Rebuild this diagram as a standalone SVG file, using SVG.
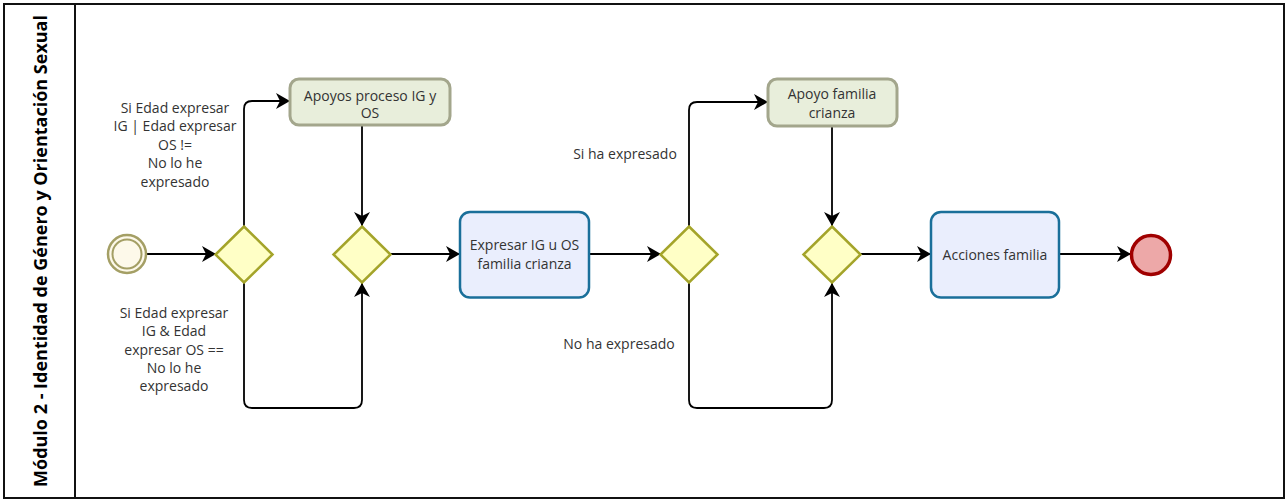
<svg xmlns="http://www.w3.org/2000/svg" width="1287" height="501" viewBox="0 0 1287 501">
<style>
.t{font-family:"Open Sans","Noto Sans","Liberation Sans",sans-serif;font-size:14px;fill:#333;text-anchor:middle;dominant-baseline:central}
.lane{font-family:"Open Sans","Noto Sans","Liberation Sans",sans-serif;font-size:18px;font-weight:bold;fill:#000;text-anchor:middle;dominant-baseline:central}
.gw{fill:#ffffc6;stroke:#a4a42a;stroke-width:2.5}
.sub{fill:#e8eedb;stroke:#a3a68c;stroke-width:3}
.task{fill:#eaeefd;stroke:#1a6f9a;stroke-width:2.5}
.c{fill:none;stroke:#000;stroke-width:1.8}
</style>
<defs>
<marker id="ah" markerUnits="userSpaceOnUse" markerWidth="16" markerHeight="18" refX="14" refY="9" orient="auto">
<path d="M0,1 L14,9 L0,17 L4,9 Z" fill="#000"/>
</marker>
</defs>
<rect x="0" y="0" width="1287" height="501" fill="#fff"/>
<g id="pool">
<rect x="4" y="4" width="1280" height="494" fill="none" stroke="#111" stroke-width="2"/>
<line x1="75" y1="4" x2="75" y2="498" stroke="#111" stroke-width="2"/>
<text class="lane" transform="translate(40,251) rotate(-90)">Módulo 2 - Identidad de Género y Orientación Sexual</text>
</g>
<g id="connectors">
<path class="c" d="M147,254 L216,254" marker-end="url(#ah)"/>
<path class="c" d="M244,226 L244,109 Q244,101 252,101 L290,101" marker-end="url(#ah)"/>
<path class="c" d="M362,125 L362,226" marker-end="url(#ah)"/>
<path class="c" d="M244,283 L244,400 Q244,408 252,408 L354,408 Q362,408 362,400 L362,283" marker-end="url(#ah)"/>
<path class="c" d="M390,254 L460,254" marker-end="url(#ah)"/>
<path class="c" d="M589,254 L661,254" marker-end="url(#ah)"/>
<path class="c" d="M689,226 L689,110 Q689,102 697,102 L768,102" marker-end="url(#ah)"/>
<path class="c" d="M689,283 L689,400 Q689,408 697,408 L824,408 Q832,408 832,400 L832,283" marker-end="url(#ah)"/>
<path class="c" d="M832,126 L832,226" marker-end="url(#ah)"/>
<path class="c" d="M861,254 L931,254" marker-end="url(#ah)"/>
<path class="c" d="M1059,254 L1131,254" marker-end="url(#ah)"/>
<text class="t" x="175" y="107">Si Edad expresar</text>
<text class="t" x="175" y="125.5">IG | Edad expresar</text>
<text class="t" x="175" y="144">OS !=</text>
<text class="t" x="175" y="162.5">No lo he</text>
<text class="t" x="175" y="181">expresado</text>
<text class="t" x="174" y="312">Si Edad expresar</text>
<text class="t" x="174" y="330.5">IG &amp; Edad</text>
<text class="t" x="174" y="349">expresar OS ==</text>
<text class="t" x="174" y="367">No lo he</text>
<text class="t" x="174" y="385.5">expresado</text>
<text class="t" x="625" y="153">Si ha expresado</text>
<text class="t" x="619" y="343">No ha expresado</text>
</g>
<g id="start">
<circle cx="127" cy="254" r="19" fill="#fdf9ea" stroke="#a49f65" stroke-width="2.5"/>
<circle cx="127" cy="254" r="14.5" fill="none" stroke="#a49f65" stroke-width="2"/>
</g>
<g id="gw1"><polygon class="gw" points="244,226.5 272.5,254.5 244,282.5 215.5,254.5"/></g>
<g id="gw2"><polygon class="gw" points="362,226.5 390.5,254.5 362,282.5 333.5,254.5"/></g>
<g id="apoyos">
<rect class="sub" x="290" y="79" width="160" height="46" rx="9"/>
<text class="t" x="370" y="95">Apoyos proceso IG y</text>
<text class="t" x="370" y="112">OS</text>
</g>
<g id="expresar">
<rect class="task" x="460" y="212" width="129" height="85.5" rx="10"/>
<text class="t" x="524.5" y="244.5">Expresar IG u OS</text>
<text class="t" x="524.5" y="263">familia crianza</text>
</g>
<g id="gw3"><polygon class="gw" points="689,226.5 717.5,254.5 689,282.5 660.5,254.5"/></g>
<g id="gw4"><polygon class="gw" points="832,226.5 860.5,254.5 832,282.5 803.5,254.5"/></g>
<g id="apoyo">
<rect class="sub" x="768" y="79" width="129" height="47" rx="9"/>
<text class="t" x="832" y="93.5">Apoyo familia</text>
<text class="t" x="832" y="112">crianza</text>
</g>
<g id="acciones">
<rect class="task" x="931" y="212" width="128" height="85.5" rx="10"/>
<text class="t" x="995" y="254">Acciones familia</text>
</g>
<g id="end">
<circle cx="1151" cy="255" r="19.5" fill="#eda8a8" stroke="#a00000" stroke-width="3.5"/>
</g>
</svg>
